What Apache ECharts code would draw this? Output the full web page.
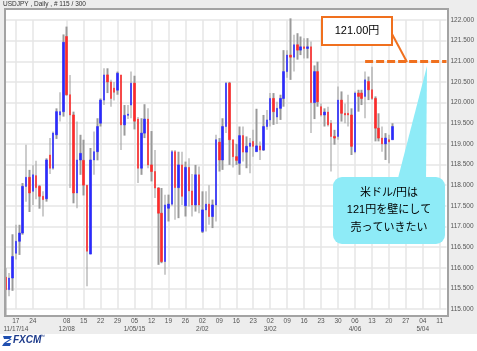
<!DOCTYPE html>
<html>
<head>
    <meta charset="utf-8">
    <title></title>
    <script type="text/javascript" src="https://cdn.jsdelivr.net/npm/echarts@6/dist/echarts.min.js"></script>
    <style>
        html, body { margin: 0; padding: 0; background: #fff; }
    </style>
</head>
<body>

<div id="main" style="width: 477px;height:351px;"></div>
<script type="text/javascript">
    // 日足 USDJPY 2014/11/12 - 2015/04/21 (115本)
    var openData = [
        115.77, 115.47, 115.75, 116.35, 116.64, 116.84, 117.97, 118.19, 117.85, 118.23,
        117.97, 117.73, 117.67, 118.73, 118.41, 119.22, 119.70, 119.78, 121.60, 120.19,
        119.70, 117.81, 118.61, 118.60, 118.00, 116.33, 118.61, 118.81, 119.50, 120.06,
        120.67, 120.50, 120.35, 120.30, 120.67, 119.46, 119.69, 119.94, 120.47, 119.60,
        118.41, 119.26, 119.60, 118.49, 118.33, 117.93, 117.32, 116.15, 117.44, 117.54,
        118.81, 117.94, 118.49, 117.50, 118.43, 117.86, 117.52, 118.25, 116.88, 117.40,
        117.54, 117.24, 117.52, 119.04, 118.61, 119.42, 120.47, 119.10, 118.69, 118.53,
        119.20, 118.80, 118.94, 119.06, 118.81, 118.95, 118.85, 119.42, 119.58, 120.10,
        119.65, 119.86, 120.10, 120.75, 121.15, 121.10, 121.40, 121.27, 121.35, 121.31,
        121.35, 120.00, 120.75, 119.90, 119.70, 119.77, 119.50, 119.18, 119.18, 120.06,
        119.74, 119.74, 119.70, 118.81, 120.23, 120.23, 120.15, 120.51, 120.31, 120.10,
        119.38, 119.14, 119.00, 119.10, 119.10
    ];
    var closeData = [
        115.47, 115.75, 116.27, 116.64, 116.84, 117.97, 118.19, 117.81, 118.25, 117.94,
        117.73, 117.65, 118.61, 118.41, 119.26, 119.78, 119.78, 121.46, 120.19, 119.70,
        117.81, 118.61, 118.77, 118.00, 116.40, 118.61, 118.81, 119.42, 120.06, 120.67,
        120.50, 120.10, 120.25, 120.71, 119.46, 119.69, 119.72, 120.47, 119.55, 118.41,
        119.26, 119.60, 118.49, 118.33, 117.93, 117.32, 116.15, 117.52, 117.54, 118.81,
        117.94, 118.49, 117.73, 118.43, 117.86, 117.52, 118.25, 117.52, 117.40, 117.54,
        117.24, 117.52, 119.10, 118.61, 119.42, 120.47, 119.10, 118.69, 118.60, 119.20,
        118.80, 118.94, 119.02, 118.94, 118.95, 118.85, 119.42, 119.58, 120.10, 119.78,
        119.86, 120.10, 120.75, 121.15, 121.10, 121.40, 121.27, 121.35, 121.31, 121.35,
        120.00, 120.75, 120.02, 119.70, 119.77, 119.46, 119.18, 119.14, 120.06, 119.74,
        119.70, 119.70, 118.94, 120.23, 120.15, 120.10, 120.55, 120.31, 120.10, 119.38,
        119.14, 119.00, 119.14, 119.05, 119.42
    ];
    var highData = [
        115.99, 115.87, 116.81, 117.04, 117.04, 118.05, 118.98, 118.37, 118.48, 118.59,
        118.00, 117.85, 118.65, 119.14, 119.30, 119.86, 120.25, 121.65, 121.84, 120.67,
        119.78, 119.54, 119.22, 119.10, 118.00, 118.90, 119.30, 119.62, 120.10, 120.83,
        120.83, 120.55, 120.50, 120.75, 120.67, 119.94, 119.94, 120.75, 120.65, 119.65,
        119.62, 119.96, 119.86, 119.31, 118.85, 117.95, 117.93, 117.77, 117.77, 118.85,
        118.85, 118.81, 118.81, 118.57, 118.65, 118.27, 118.49, 118.45, 117.85, 117.85,
        118.00, 117.65, 119.22, 119.14, 119.62, 120.50, 120.50, 119.10, 119.00, 119.42,
        119.42, 119.18, 119.14, 119.34, 119.85, 119.06, 119.70, 119.82, 120.23, 120.23,
        120.02, 120.19, 121.27, 121.27, 122.04, 121.64, 121.68, 121.60, 121.56, 121.56,
        121.48, 120.90, 120.99, 119.98, 119.86, 119.90, 119.58, 119.34, 120.39, 120.27,
        119.98, 120.19, 119.86, 120.27, 120.31, 120.31, 120.75, 120.63, 120.87, 120.15,
        119.74, 119.42, 119.26, 119.22, 119.50
    ];
    var lowData = [
        114.85, 115.31, 115.44, 116.20, 116.31, 116.80, 117.60, 117.35, 117.52, 117.66,
        117.43, 117.24, 117.60, 118.27, 118.37, 119.12, 119.54, 119.66, 120.17, 117.93,
        117.56, 117.44, 118.25, 117.75, 115.55, 116.33, 118.25, 118.60, 119.42, 119.94,
        120.23, 119.90, 120.05, 120.19, 118.85, 119.20, 119.60, 119.62, 119.35, 118.05,
        118.25, 119.14, 118.41, 118.09, 117.69, 116.07, 116.11, 115.83, 117.12, 117.50,
        117.16, 117.20, 117.52, 117.24, 117.48, 117.24, 117.36, 117.32, 116.84, 116.88,
        117.04, 116.96, 117.12, 118.33, 118.37, 119.26, 118.49, 118.43, 118.49, 118.25,
        118.57, 118.41, 118.29, 118.69, 118.81, 118.61, 118.83, 119.34, 119.42, 119.46,
        119.48, 119.58, 119.90, 120.60, 120.55, 120.75, 121.04, 121.15, 121.07, 121.07,
        119.26, 119.60, 119.90, 119.66, 119.42, 119.42, 118.33, 118.98, 119.10, 119.54,
        119.50, 119.42, 118.73, 118.77, 119.78, 119.94, 119.62, 120.06, 120.06, 119.06,
        119.06, 118.81, 118.61, 118.53, 119.10
    ];

    // 目盛り（月曜）と月ラベル
    var tickDates = [
        '2014-11-17', '2014-11-24', '2014-12-08', '2014-12-15', '2014-12-22', '2014-12-29',
        '2015-01-05', '2015-01-12', '2015-01-19', '2015-01-26', '2015-02-02', '2015-02-09',
        '2015-02-16', '2015-02-23', '2015-03-02', '2015-03-09', '2015-03-16', '2015-03-23',
        '2015-03-30', '2015-04-06', '2015-04-13', '2015-04-20', '2015-04-27', '2015-05-04',
        '2015-05-11'
    ];
    var monthLabels = {
        '2014-11-17': '11/17/14',
        '2014-12-08': '12/08',
        '2015-01-05': '1/05/15',
        '2015-02-02': '2/02',
        '2015-03-02': '3/02',
        '2015-04-06': '4/06',
        '2015-05-04': '5/04'
    };
    var yTicks = [115, 122, 0.5]; // min, max, interval
    var lineLevel = 121.0;

    // 平日のカテゴリ
    function pad(n) { return n < 10 ? '0' + n : '' + n; }
    var dates = [];
    var d = new Date(Date.UTC(2014, 10, 12));
    var end = new Date(Date.UTC(2015, 4, 13));
    while (d <= end) {
        var wd = d.getUTCDay();
        if (wd !== 0 && wd !== 6) {
            dates.push(d.getUTCFullYear() + '-' + pad(d.getUTCMonth() + 1) + '-' + pad(d.getUTCDate()));
        }
        d.setUTCDate(d.getUTCDate() + 1);
    }

    var rangeData = [], bodyData = [];
    for (var i = 0; i < openData.length; i++) {
        var o = openData[i], c = closeData[i];
        rangeData.push([lowData[i], highData[i], lowData[i], highData[i]]);
        bodyData.push([o, c, Math.min(o, c), Math.max(o, c)]);
    }

    function isTick(idx, val) {
        return tickDates.indexOf(val) >= 0;
    }

    var orange = '#F0701E';
    var cjk = '"Liberation Sans", "Noto Sans CJK JP", sans-serif';

    var myChart = echarts.init(document.getElementById('main'));

    option = {
        backgroundColor: '#fff',
        animation: false,
        grid: {
            left: 5.7,
            right: 29.3,
            top: 20,
            bottom: 42
        },
        xAxis: {
            type: 'category',
            data: dates,
            boundaryGap: false,
            axisLine: { show: false },
            axisTick: { show: false },
            axisLabel: {
                interval: isTick,
                margin: 8,
                fontSize: 6.5,
                lineHeight: 8,
                color: '#555',
                fontFamily: 'Liberation Sans',
                formatter: function (v) {
                    var s = v.slice(8, 10);
                    if (monthLabels[v]) s += '\n' + monthLabels[v];
                    return s;
                }
            },
            splitLine: {
                show: true,
                interval: isTick,
                lineStyle: { color: '#e6e6e6', width: 1.5 }
            }
        },
        yAxis: {
            type: 'value',
            position: 'right',
            min: yTicks[0],
            max: yTicks[1],
            interval: yTicks[2],
            axisLine: { show: false },
            axisTick: { show: false },
            axisLabel: {
                margin: 4,
                fontSize: 6.5,
                color: '#555',
                fontFamily: 'Liberation Sans',
                formatter: function (v) { return v.toFixed(3); }
            },
            splitLine: {
                lineStyle: { color: '#e6e6e6', width: 1.5 }
            }
        },
        series: [
            {
                name: 'range',
                type: 'candlestick',
                data: rangeData,
                barWidth: 2,
                clip: false,
                itemStyle: {
                    color: '#9a9a9a',
                    color0: '#9a9a9a',
                    borderColor: '#9a9a9a',
                    borderColor0: '#9a9a9a',
                    borderWidth: 0
                }
            },
            {
                name: 'body',
                type: 'candlestick',
                data: bodyData,
                barWidth: 2,
                clip: false,
                itemStyle: {
                    color: '#2a2aff',
                    color0: '#ff2a2a',
                    borderColor: '#2a2aff',
                    borderColor0: '#ff2a2a',
                    borderWidth: 0.6
                },
                markLine: {
                    silent: true,
                    symbol: 'none',
                    label: { show: false },
                    lineStyle: { color: orange, width: 3, type: [8, 3] },
                    data: [[
                        { coord: ['2015-04-09', lineLevel] },
                        { coord: ['2015-05-13', lineLevel] }
                    ]]
                }
            }
        ],
        graphic: [
            // 背景
            { type: 'rect', z: -10, silent: true, shape: { x: 0, y: 0, width: 477, height: 334 }, style: { fill: '#ededed' } },
            { type: 'rect', z: -9, silent: true, shape: { x: 5, y: 9, width: 443, height: 307 }, style: { fill: '#fff' } },
            { type: 'rect', z: 50, silent: true, shape: { x: 5, y: 9, width: 443, height: 307 }, style: { fill: null, stroke: '#a3a3a3', lineWidth: 2 } },
            {
                type: 'text', z: 50, left: 3, top: 1,
                style: { text: 'USDJPY , Daily , # 115 / 300', fontSize: 6.5, fill: '#333', fontFamily: 'Liberation Sans' }
            },
            // 121.00円 ボックス
            { type: 'line', z: 60, shape: { x1: 392, y1: 34, x2: 407, y2: 62 }, style: { stroke: orange, lineWidth: 2 } },
            { type: 'rect', z: 60, shape: { x: 322, y: 17, width: 70, height: 28 }, style: { fill: '#fff', stroke: orange, lineWidth: 2 } },
            {
                type: 'text', z: 61, x: 357, y: 31,
                style: { text: '121.00円', fontSize: 11, fill: '#000', fontFamily: cjk, textAlign: 'center', textVerticalAlign: 'middle' }
            },
            // 吹き出し
            { type: 'polygon', z: 60, shape: { points: [[427, 66], [397, 182], [426, 182]] }, style: { fill: '#8EEBF7' } },
            { type: 'rect', z: 60, shape: { x: 333, y: 177, width: 112, height: 67, r: 9 }, style: { fill: '#8EEBF7' } },
            {
                type: 'text', z: 61, x: 389, y: 210,
                style: {
                    text: '米ドル/円は\n121円を壁にして\n売っていきたい',
                    fontSize: 11, lineHeight: 17.5, fill: '#000', fontFamily: cjk,
                    textAlign: 'center', textVerticalAlign: 'middle'
                }
            },
            // FXCM ロゴ
            { type: 'polygon', z: 50, shape: { points: [[3, 336], [12, 336], [10, 339], [4, 339]] }, style: { fill: '#1f4fb0' } },
            { type: 'polygon', z: 50, shape: { points: [[10, 339], [12, 339], [6, 343], [4, 343]] }, style: { fill: '#1f4fb0' } },
            { type: 'polygon', z: 50, shape: { points: [[4, 343], [11, 343], [10, 346], [2, 346]] }, style: { fill: '#1f4fb0' } },
            {
                type: 'text', z: 50, left: 13, top: 335,
                style: { text: 'FXCM', fontSize: 10, fontWeight: 'bold', fontStyle: 'italic', fill: '#1c3a8a', fontFamily: 'Liberation Sans' }
            },
            {
                type: 'text', z: 50, left: 40, top: 334,
                style: { text: '™', fontSize: 5, fill: '#1c3a8a', fontFamily: 'Liberation Sans' }
            }
        ]
    };

    myChart.setOption(option);
</script>

</body>
</html>
